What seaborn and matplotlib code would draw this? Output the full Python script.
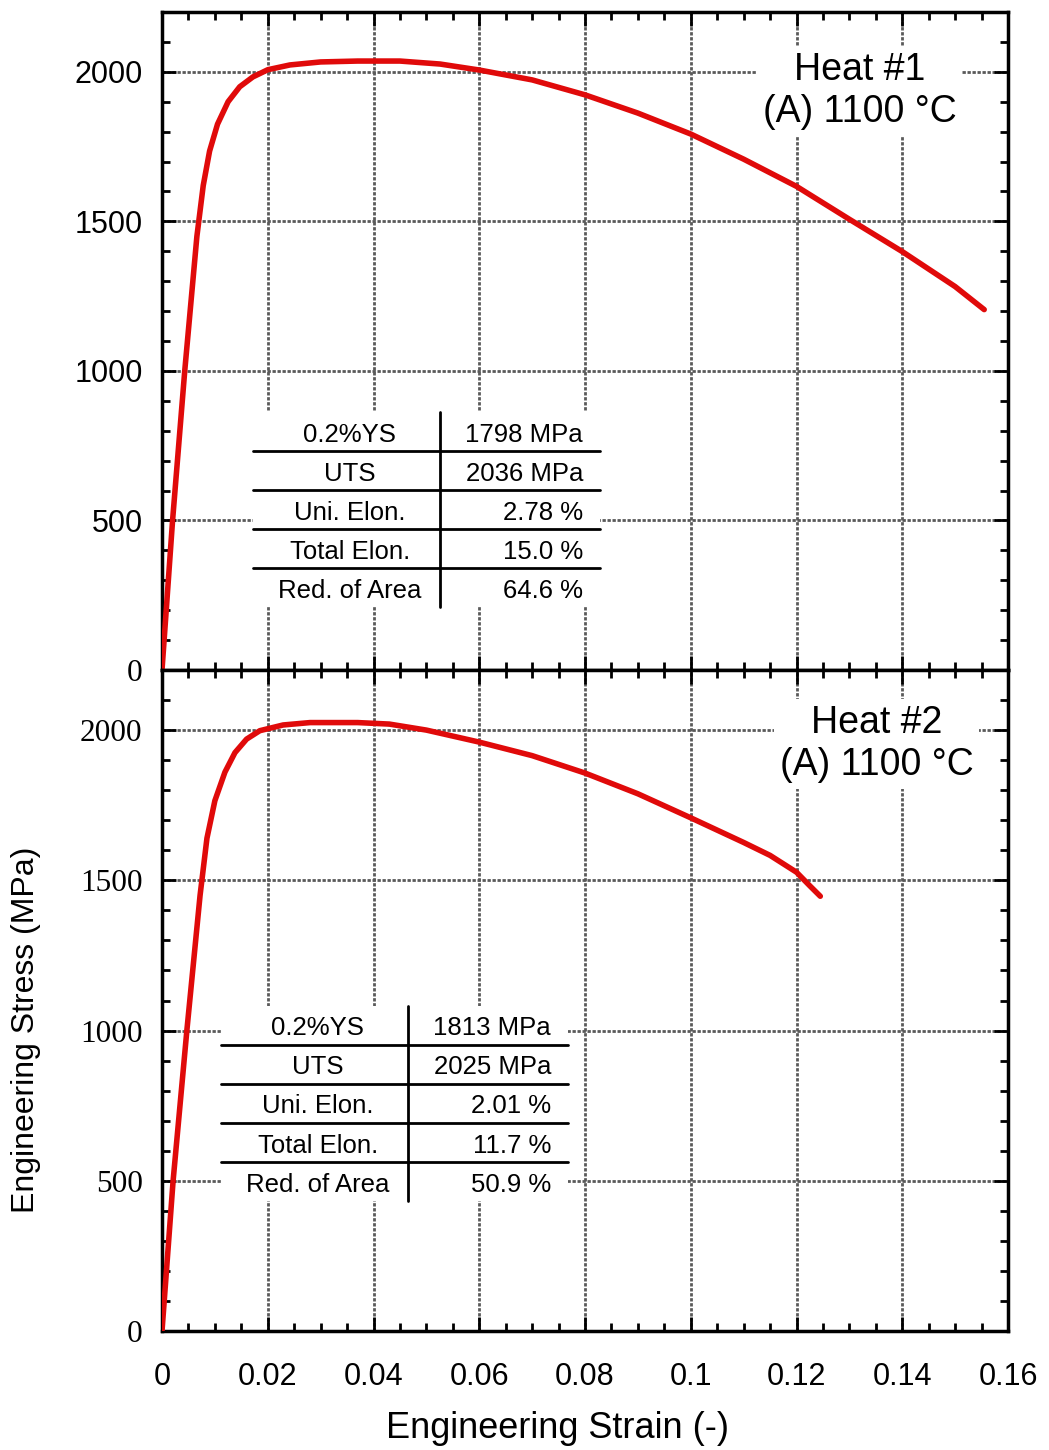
import matplotlib
matplotlib.use("Agg")
import matplotlib.pyplot as plt
import seaborn as sns
import pandas as pd
from matplotlib.ticker import MultipleLocator
from matplotlib.patches import Rectangle

# Heat #1 curve
strain1 = [0, 0.0020, 0.0043, 0.0066, 0.0078, 0.0090, 0.0105, 0.0125, 0.0147, 0.0172,
           0.0200, 0.0242, 0.0300, 0.0370, 0.0450, 0.0526, 0.0600, 0.0700, 0.0800, 0.0900,
           0.1000, 0.1100, 0.1200, 0.1300, 0.1400, 0.1500, 0.1555]
stress1 = [0, 500, 1000, 1450, 1620, 1735, 1825, 1900, 1950, 1983,
           2007, 2023, 2033, 2036, 2036, 2026, 2006, 1973, 1923, 1862,
           1792, 1708, 1617, 1507, 1399, 1282, 1205]

# Heat #2 curve
strain2 = [0, 0.0021, 0.0047, 0.0072, 0.0085, 0.0100, 0.0119, 0.0138, 0.0160, 0.0185,
           0.0229, 0.0280, 0.0370, 0.0430, 0.0500, 0.0600, 0.0700, 0.0800, 0.0900,
           0.1000, 0.1100, 0.1150, 0.1200, 0.1225, 0.1245]
stress2 = [0, 500, 1000, 1450, 1640, 1765, 1860, 1925, 1970, 1998,
           2017, 2025, 2025, 2020, 2000, 1960, 1915, 1857, 1788,
           1708, 1626, 1583, 1527, 1482, 1447]

row_labels = ["0.2%YS", "UTS", "Uni. Elon.", "Total Elon.", "Red. of Area"]
values1 = ["1798 MPa", "2036 MPa", "2.78 %", "15.0 %", "64.6 %"]
values2 = ["1813 MPa", "2025 MPa", "2.01 %", "11.7 %", "50.9 %"]
titles = ["Heat #1\n(A) 1100 °C", "Heat #2\n(A) 1100 °C"]

sns.set_theme(style="ticks")
plt.rcParams['font.family'] = ['Liberation Sans', 'DejaVu Sans']
plt.rcParams.update({"text.color": "black", "axes.labelcolor": "black",
                     "xtick.color": "black", "ytick.color": "black"})

W, H = 1049, 1450
fig = plt.figure(figsize=(W / 100, H / 100), dpi=100)
left, right = 162 / W, 1008 / W
ax1 = fig.add_axes([left, 1 - 670 / H, right - left, 658 / H])
ax2 = fig.add_axes([left, 1 - 1331 / H, right - left, 661 / H])


def draw_table(ax, xl, xm, xr, yt, h, vals):
    ax.add_patch(Rectangle((xl, yt - 5 * h), xr - xl, 5 * h, transform=ax.transAxes,
                           facecolor="white", edgecolor="none", zorder=3))
    ax.plot([xm, xm], [yt, yt - 5 * h], transform=ax.transAxes, color="black", lw=2, zorder=4)
    for i in range(4):
        yy = yt - h * (i + 1)
        ax.plot([xl, xr], [yy, yy], transform=ax.transAxes, color="black", lw=2, zorder=4)
    for i, (lab, val) in enumerate(zip(row_labels, vals)):
        yy = yt - h * (i + 0.5) - 0.005
        ax.text((xl + xm) / 2 + 0.004, yy, lab, transform=ax.transAxes, ha="center", va="center",
                fontsize=18.5, color="black", zorder=5)
        ax.text(xr - 0.02, yy, val, transform=ax.transAxes, ha="right", va="center",
                fontsize=18.5, color="black", zorder=5)


for ax, x, y in [(ax1, strain1, stress1), (ax2, strain2, stress2)]:
    df = pd.DataFrame({"strain": x, "stress": y})
    sns.lineplot(data=df, x="strain", y="stress", sort=False, color="#e00a0a", lw=4, ax=ax, zorder=6)
    ax.set_xlim(0, 0.16)
    ax.set_ylim(0, 2200)
    ax.xaxis.set_major_locator(MultipleLocator(0.02))
    ax.xaxis.set_minor_locator(MultipleLocator(0.005))
    ax.yaxis.set_major_locator(MultipleLocator(500))
    ax.yaxis.set_minor_locator(MultipleLocator(100))
    ax.grid(True, which="major", color="#5a5a5a", linestyle=(0, (1.2, 0.6)), lw=2, zorder=1)
    ax.tick_params(which="both", direction="in", top=True, right=True, width=2, colors="black")
    ax.tick_params(which="major", length=10, labelsize=22)
    ax.tick_params(axis="y", which="major", pad=14)
    ax.tick_params(axis="x", which="major", pad=22)
    ax.tick_params(which="minor", length=6)
    for s in ax.spines.values():
        s.set_linewidth(2.5)
        s.set_color("black")
    ax.set_xlabel("")
    ax.set_ylabel("")

ax1.tick_params(labelbottom=False)
ax2.set_xticks([0, 0.02, 0.04, 0.06, 0.08, 0.1, 0.12, 0.14, 0.16])
ax2.set_xticklabels(["0", "0.02", "0.04", "0.06", "0.08", "0.1", "0.12", "0.14", "0.16"])
ax1.set_yticks([0, 500, 1000, 1500, 2000])
ax1.set_yticklabels(["0", "500", "1000", "1500", "2000"])
ax2.set_yticks([0, 500, 1000, 1500, 2000])
ax2.set_yticklabels(["0", "500", "1000", "1500", "2000"])
for t in ax2.get_yticklabels():
    t.set_fontfamily("Liberation Serif")
    t.set_fontsize(22.5)
ax1.get_yticklabels()[0].set_fontfamily("Liberation Serif")
ax1.get_yticklabels()[0].set_fontsize(22.5)

# tables
draw_table(ax1, 91 / 846, 278 / 846, 438 / 846, 0.392, 0.0593, values1)
draw_table(ax2, 59 / 846, 246 / 846, 406 / 846, 0.4924, 0.0591, values2)

# heat labels
ax1.text(0.825, 0.88, titles[0], transform=ax1.transAxes, ha="center", va="center",
         fontsize=27, linespacing=1.22, zorder=5, color="black",
         bbox=dict(facecolor="white", edgecolor="none", pad=4))
ax2.text(0.845, 0.888, titles[1], transform=ax2.transAxes, ha="center", va="center",
         fontsize=27, linespacing=1.22, zorder=5, color="black",
         bbox=dict(facecolor="white", edgecolor="none", pad=4))

fig.text(558 / W, 1 - 1428 / H, "Engineering Strain (-)", ha="center", va="center",
         fontsize=26, color="black")
fig.text(26 / W, 1 - 1030 / H, "Engineering Stress (MPa)", ha="center", va="center",
         fontsize=23, rotation=90, color="black")

fig.savefig("out.png", dpi=100)
